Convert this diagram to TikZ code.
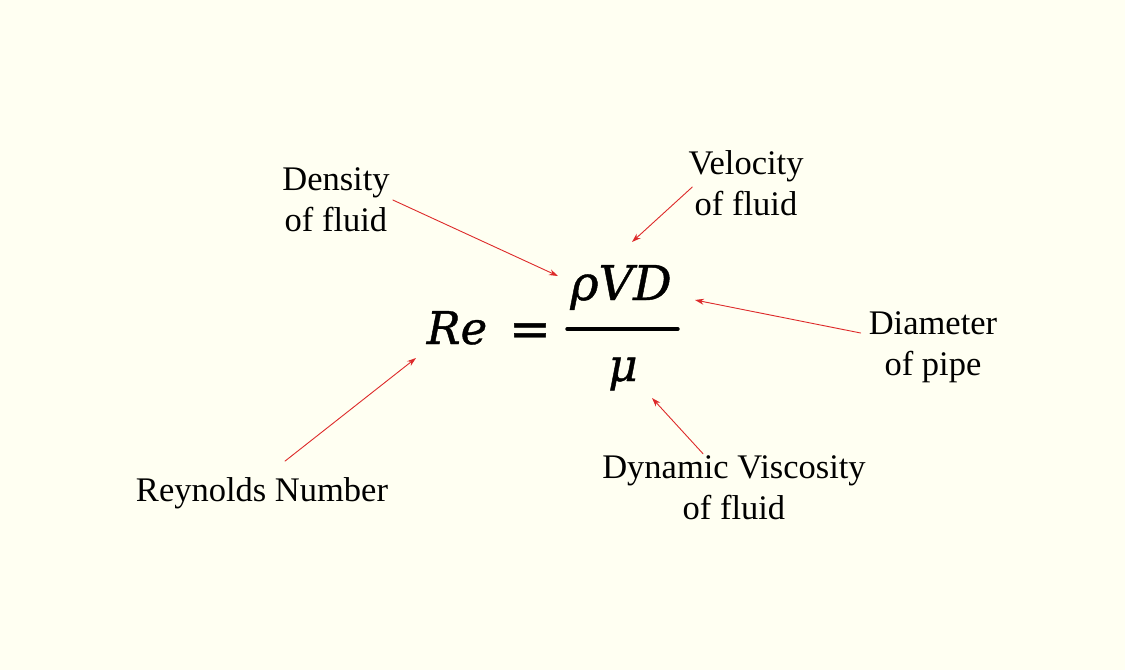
\documentclass[tikz,border=0pt]{standalone}
\usepackage{fontspec}
\setmainfont{Liberation Serif}
\newfontfamily\eqfont[FakeBold=0.9]{DejaVu Serif}
\usetikzlibrary{arrows.meta}

\tikzset{
  label/.style={font=\fontsize{34.5}{41}\selectfont,align=center,inner sep=0pt},
  eqpart/.style={font=\eqfont\itshape\fontsize{45}{45}\selectfont,inner sep=0pt,anchor=base},
  pointer/.style={draw=arrowred,line width=0.9,-{Stealth[length=9,width=6]}}
}

\begin{document}
\begin{tikzpicture}[x=1pt,y=-1pt,line cap=round,line join=round]
\definecolor{paper}{HTML}{FFFFF2}
\definecolor{arrowred}{HTML}{DD2A2A}

\fill[paper] (0,0) rectangle (1125,670);
\useasboundingbox (0,0) rectangle (1125,670);

% the equation
\node[eqpart] (re) at (457,344) {Re};
\node[eqpart,font=\eqfont\fontsize{50}{50}\selectfont] (eq) at (530,346) {=};
\node[eqpart,font=\eqfont\itshape\fontsize{48}{48}\selectfont] (num) at (621,300) {ρVD};
\node[eqpart] (den) at (623,381) {μ};
\draw[line width=3.4] (567,329) -- (678,329);

% the labels
\node[label] (dens) at (336,200) {Density\\of fluid};
\node[label] (vel) at (746,183) {Velocity\\of fluid};
\node[label] (diam) at (933,347) {Diameter\\of pipe};
\node[label] (dyn) at (734,488) {Dynamic Viscosity\\of fluid};
\node[label] (rey) at (262,493) {Reynolds Number};

\coordinate (rho) at (558,276);
\coordinate (velo) at (632,242);
\coordinate (dia) at (695,300);
\coordinate (mu) at (652,398);
\coordinate (ren) at (416,358);

\draw[pointer] ([xshift=3]dens.east) -- (rho);
\draw[pointer] ([xshift=4,yshift=-4]vel.west) -- (velo);
\draw[pointer] ([xshift=-8,yshift=14]diam.west) -- (dia);
\draw[pointer] ([xshift=-31,yshift=2]dyn.north) -- (mu);
\draw[pointer] ([xshift=23,yshift=16]rey.north) -- (ren);
\end{tikzpicture}
\end{document}
